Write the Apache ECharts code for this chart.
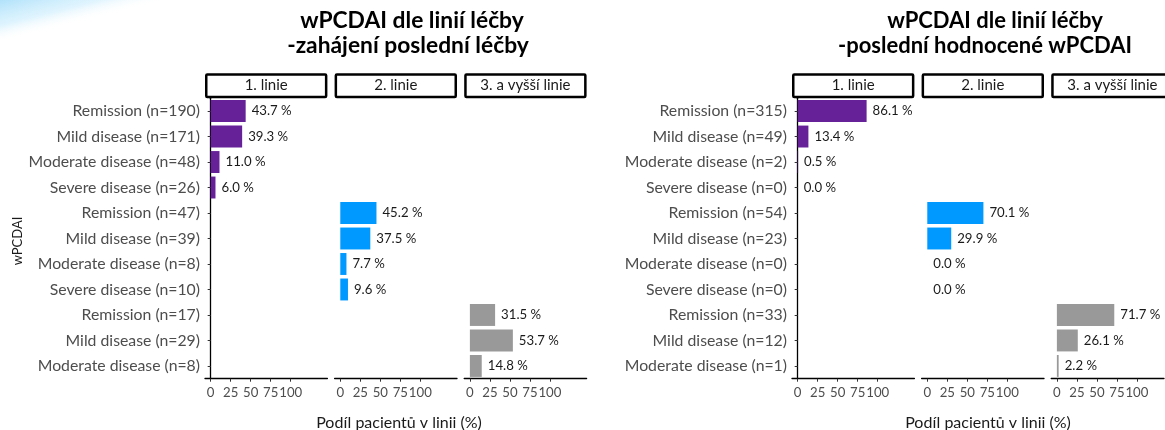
<!DOCTYPE html>
<html>
<head>
<meta charset="utf-8">
<script src="https://cdn.jsdelivr.net/npm/echarts@6/dist/echarts.min.js"></script>
<style>
  html, body { margin: 0; padding: 0; background: #ffffff; }
  #chart { width: 1165px; height: 430px; }
</style>
</head>
<body>
<div id="chart"></div>
<script>
// Facet titles (treatment lines)
const lineNames = ['1. linie', '2. linie', '3. a vyšší linie'];

// Rows of the left block: wPCDAI at the start of the last treatment
const categoriesStart = [
  'Remission (n=190)', 'Mild disease (n=171)', 'Moderate disease (n=48)', 'Severe disease (n=26)',
  'Remission (n=47)', 'Mild disease (n=39)', 'Moderate disease (n=8)', 'Severe disease (n=10)',
  'Remission (n=17)', 'Mild disease (n=29)', 'Moderate disease (n=8)'
];
const startLine1 = [43.7, 39.3, 11.0, 6.0];
const startLine2 = [45.2, 37.5, 7.7, 9.6];
const startLine3 = [31.5, 53.7, 14.8];

// Rows of the right block: last evaluated wPCDAI
const categoriesLast = [
  'Remission (n=315)', 'Mild disease (n=49)', 'Moderate disease (n=2)', 'Severe disease (n=0)',
  'Remission (n=54)', 'Mild disease (n=23)', 'Moderate disease (n=0)', 'Severe disease (n=0)',
  'Remission (n=33)', 'Mild disease (n=12)', 'Moderate disease (n=1)'
];
const lastLine1 = [86.1, 13.4, 0.5, 0.0];
const lastLine2 = [70.1, 29.9, 0.0, 0.0];
const lastLine3 = [71.7, 26.1, 2.2];

// First row of each treatment line inside a block
const lineRowStart = [0, 4, 8];

// Tick labels of the share axis
const xTicks = [0, 25, 50, 75, 100];

const titleStart = ['wPCDAI dle linií léčby', '-zahájení poslední léčby'];
const titleLast = ['wPCDAI dle linií léčby', '-poslední hodnocené wPCDAI'];
const xTitle = 'Podíl pacientů v linii (%)';
const yTitle = 'wPCDAI';

const FONT = 'Lato, "Open Sans", sans-serif';
const lineColors = ['#662199', '#0099ff', '#999999'];

const CANVAS_W = 1165;
const PANEL_TOP = 98.3;
const PANEL_BOTTOM = 378.7;
const PANEL_W = 122.4;
const STRIP_TOP = 73.3;
const X_MIN = -7.1;
const X_MAX = 145.8;
const UNITS_PER_PX = (X_MAX - X_MIN) / PANEL_W;

const blocks = [
  { cats: categoriesStart, values: [startLine1, startLine2, startLine3], lefts: [205, 334.6, 464.2],
    title: titleStart, titleX: [412, 408], titleSize: 22.8, xTitleX: 399 },
  { cats: categoriesLast, values: [lastLine1, lastLine2, lastLine3], lefts: [792, 921.6, 1051.2],
    title: titleLast, titleX: [995, 985], titleSize: 22, xTitleX: 988 }
];

const grids = [], xAxes = [], yAxes = [], series = [], graphics = [];

// soft light-blue corner glow, faded out towards the right
graphics.push({
  type: 'polygon', silent: true, z: -10,
  shape: { points: [[0, 0], [340, 0], [340, 2], [0, 40]] },
  style: {
    fill: new echarts.graphic.LinearGradient(0, 0, 0.03, 1, [
      { offset: 0, color: 'rgba(172,224,250,0.95)' },
      { offset: 0.6, color: 'rgba(205,238,253,0.65)' },
      { offset: 1, color: 'rgba(255,255,255,0)' }
    ])
  }
});
graphics.push({
  type: 'rect', silent: true, z: -9,
  shape: { x: 0, y: 0, width: 345, height: 42 },
  style: {
    fill: new echarts.graphic.LinearGradient(0, 0, 1, 0, [
      { offset: 0, color: 'rgba(255,255,255,0)' },
      { offset: 0.55, color: 'rgba(255,255,255,0.1)' },
      { offset: 1, color: 'rgba(255,255,255,1)' }
    ])
  }
});

blocks.forEach((b, bi) => {
  b.values.forEach((vals, li) => {
    const k = grids.length;
    const left = b.lefts[li];
    // a panel running past the page edge is cut at the edge, keeping the same scale
    const w = Math.min(PANEL_W, CANVAS_W - 1 - left);
    const xMax = X_MIN + w * UNITS_PER_PX;
    grids.push({ left: left, top: PANEL_TOP, width: w, height: PANEL_BOTTOM - PANEL_TOP, containLabel: false });
    xAxes.push({
      type: 'value', gridIndex: k, min: X_MIN, max: xMax,
      splitLine: { show: false },
      axisLine: { show: true, lineStyle: { color: '#000000', width: 1.3 } },
      axisTick: { show: true, customValues: xTicks, length: 3, lineStyle: { color: '#333333', width: 1 } },
      axisLabel: { show: true, customValues: xTicks, margin: 8, color: '#4d4d4d', fontSize: 13.2, fontFamily: FONT, hideOverlap: false }
    });
    const first = li === 0;
    yAxes.push({
      type: 'category', gridIndex: k, data: b.cats, inverse: true,
      axisLine: { show: first, lineStyle: { color: '#000000', width: 1.3 } },
      axisTick: { show: first, length: 3, alignWithLabel: true, lineStyle: { color: '#333333', width: 1 } },
      axisLabel: { show: first, margin: 5, color: '#4d4d4d', fontSize: 15.8, fontFamily: FONT, interval: 0 },
      splitLine: { show: false }
    });
    series.push({
      type: 'bar', xAxisIndex: k, yAxisIndex: k,
      barWidth: '86%',
      itemStyle: { color: lineColors[li] },
      data: vals.map((v, i) => [v, lineRowStart[li] + i]),
      label: {
        show: true, position: 'right', distance: 6,
        formatter: p => p.value[0].toFixed(1) + ' %',
        color: '#1a1a1a', fontSize: 13.2, fontFamily: FONT
      },
      animation: false
    });
    // facet strip
    graphics.push({
      type: 'rect', z: 5,
      shape: { x: left + 1.25, y: STRIP_TOP + 1.25, width: PANEL_W - 2.5, height: 22.5, r: 1 },
      style: { fill: '#ffffff', stroke: '#000000', lineWidth: 2.5 }
    });
    graphics.push({
      type: 'text', z: 6, x: left + PANEL_W / 2, y: 85,
      style: { text: lineNames[li], fill: '#1a1a1a', font: '15px ' + FONT, align: 'center', verticalAlign: 'middle' }
    });
  });
  // block titles
  b.title.forEach((t, ti) => {
    graphics.push({
      type: 'text', z: 10, x: b.titleX[ti], y: 21 + ti * 24.5,
      style: { text: t, fill: '#000000', font: 'bold ' + b.titleSize + 'px ' + FONT, align: 'center', verticalAlign: 'middle' }
    });
  });
  // x-axis title
  graphics.push({
    type: 'text', x: b.xTitleX, y: 423,
    style: { text: xTitle, fill: '#1a1a1a', font: '16px ' + FONT, align: 'center', verticalAlign: 'middle' }
  });
});

// y-axis title (left block only)
graphics.push({
  type: 'text', x: 18, y: 241, rotation: Math.PI / 2,
  style: { text: yTitle, fill: '#1a1a1a', font: '13px ' + FONT, align: 'center', verticalAlign: 'middle' }
});

const chart = echarts.init(document.getElementById('chart'), null, { renderer: 'canvas' });
chart.setOption({
  backgroundColor: '#ffffff',
  animation: false,
  grid: grids,
  xAxis: xAxes,
  yAxis: yAxes,
  series: series,
  graphic: { elements: graphics }
});
</script>
</body>
</html>
